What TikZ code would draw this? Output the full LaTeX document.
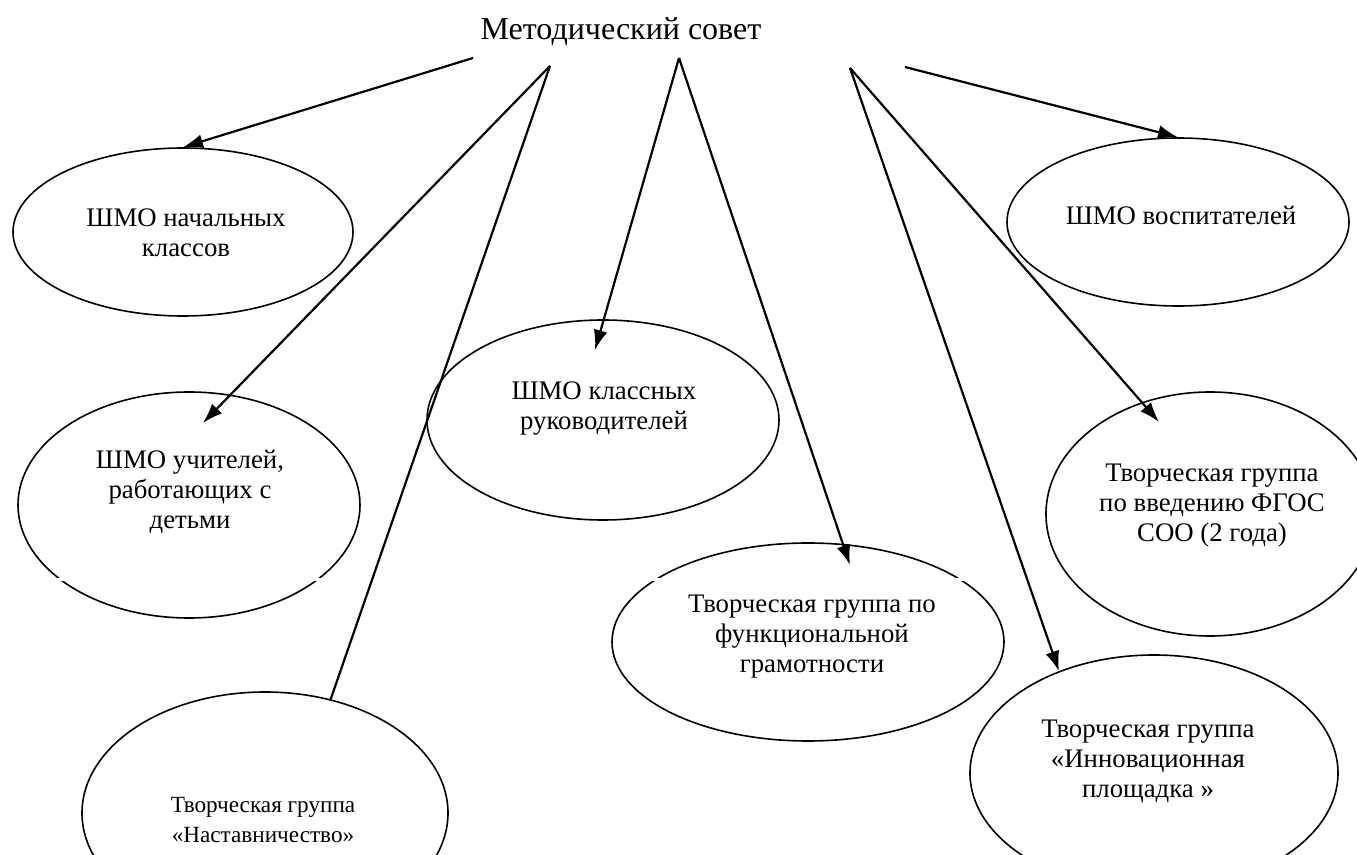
\documentclass[tikz,border=0pt]{standalone}
\usepackage{fontspec}
\setmainfont{Liberation Serif}
\usepackage{tikz}
\usetikzlibrary{shapes.geometric, arrows.meta}
\tikzset{>={Latex[length=10pt, width=7pt]}}
\tikzset{
    unit/.style={draw, ellipse, line width=0.8pt, inner sep=0pt},
    lbl/.style={align=center, inner sep=0pt, font=\fontsize{13.4}{15}\selectfont},
    link/.style={line width=1.1pt}
}

\begin{document}
\begin{tikzpicture}[x=0.5pt, y=-0.5pt]

    \useasboundingbox (0,0) rectangle (1357,855);
    \clip (0,0) rectangle (1357,855);

    \node[anchor=base, inner sep=0pt, font=\fontsize{16}{18}\selectfont] (council) at (621,40) {Методический совет};

    \foreach \n/\x/\y/\w/\h in {A/183/232/170/84, B/189/505/171/113, C/265/813/183/121, D/603/420/176/100,
                                E/808/642/196/99, F/1210/514/164/122, G/1154/773/184/118, H/1178/222/171/84}{
        \node[unit, minimum width=\w pt, minimum height=\h pt] (\n) at (\x,\y) {};
    }

    \node[lbl] (A-t) at (186,233) {ШМО начальных\\классов};
    \node[lbl] (B-t) at (190,492) {ШМО учителей,\\работающих с\\детьми};
    \node[lbl, font=\fontsize{11.6}{15}\selectfont] (C-t) at (263,820) {Творческая группа\\«Наставничество»};
    \node[lbl] (D-t) at (604,409) {ШМО классных\\руководителей};
    \node[lbl] (E-t) at (812,637) {Творческая группа по\\функциональной\\грамотности};
    \node[lbl] (F-t) at (1212,506) {Творческая группа\\по введению ФГОС\\СОО (2 года)};
    \node[lbl] (G-t) at (1148,762) {Творческая группа\\«Инновационная\\площадка »};
    \node[lbl, anchor=base] (H-t) at (1181,225) {ШМО воспитателей};

    \draw[white, line width=1.5pt] (40,580) -- (990,580);

    \coordinate (s1) at (473,58);
    \coordinate (s2) at (550,66);
    \coordinate (s3) at (679,58);
    \coordinate (s4) at (850,68);
    \coordinate (s5) at (905,67);
    \coordinate (B-in) at (203,423);
    \coordinate (D-in) at (595,350);
    \coordinate (E-in) at (850,565);
    \coordinate (F-in) at (1159,422);

    \draw[link, ->] (s1) -- (A.north);
    \draw[link, ->] (s2) -- (B-in);
    \draw[link] (s2) -- (C.60);
    \draw[link, ->] (s3) -- (D-in);
    \draw[link, ->] (s3) -- (E-in);
    \draw[link, ->] (s4) -- (F-in);
    \draw[link, ->] (s4) -- (G.133);
    \draw[link, ->] (s5) -- (H.north);

\end{tikzpicture}
\end{document}
